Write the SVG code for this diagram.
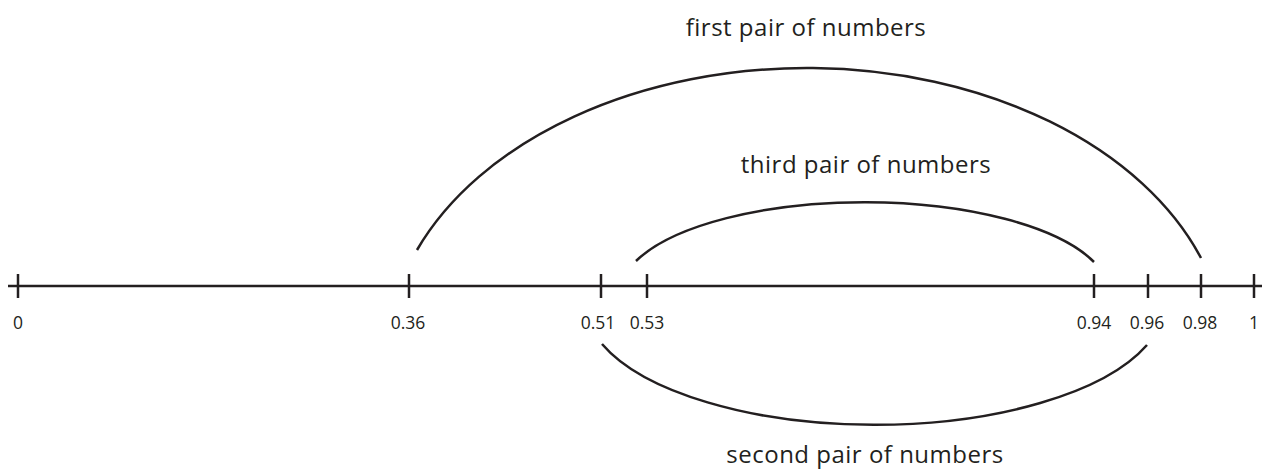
<svg xmlns="http://www.w3.org/2000/svg" width="1269" height="470" viewBox="0 0 1269 470">
<style>
.ln{stroke:#231f20;stroke-width:2.5;fill:none;stroke-linecap:butt}
.arc{stroke:#231f20;stroke-width:2.5;fill:none}
.num{font-family:"Open Sans","Liberation Sans",sans-serif;font-size:17.5px;fill:#231f20;text-anchor:middle}
.cap{font-family:"Open Sans","Liberation Sans",sans-serif;font-size:24px;letter-spacing:0.5px;fill:#231f20;text-anchor:middle}
</style>
<rect width="1269" height="470" fill="#ffffff"/>
<g id="axis">
<line class="ln" x1="8" y1="286" x2="1262" y2="286"/>
</g>
<g id="tick-0"><line class="ln" x1="18" y1="274" x2="18" y2="298"/><text class="num" x="18" y="329">0</text></g>
<g id="tick-036"><line class="ln" x1="409" y1="274" x2="409" y2="298"/><text class="num" x="408" y="329">0.36</text></g>
<g id="tick-051"><line class="ln" x1="601" y1="274" x2="601" y2="298"/><text class="num" x="598" y="329">0.51</text></g>
<g id="tick-053"><line class="ln" x1="647" y1="274" x2="647" y2="298"/><text class="num" x="647" y="329">0.53</text></g>
<g id="tick-094"><line class="ln" x1="1094" y1="274" x2="1094" y2="298"/><text class="num" x="1094" y="329">0.94</text></g>
<g id="tick-096"><line class="ln" x1="1148" y1="274" x2="1148" y2="298"/><text class="num" x="1147" y="329">0.96</text></g>
<g id="tick-098"><line class="ln" x1="1201" y1="274" x2="1201" y2="298"/><text class="num" x="1200" y="329">0.98</text></g>
<g id="tick-1"><line class="ln" x1="1254" y1="274" x2="1254" y2="298"/><text class="num" x="1254" y="329">1</text></g>
<g id="connectors">
<path class="arc" d="M417,250 A420,290 0 0,1 1201,258"/>
<path class="arc" d="M636,261 A245,92 0 0,1 1094,262"/>
<path class="arc" d="M602,344 A290,122 0 0,0 1147,345"/>
</g>
<g id="label-first"><text class="cap" x="806" y="36">first pair of numbers</text></g>
<g id="label-third"><text class="cap" x="866" y="173">third pair of numbers</text></g>
<g id="label-second"><text class="cap" x="865" y="463">second pair of numbers</text></g>
</svg>
